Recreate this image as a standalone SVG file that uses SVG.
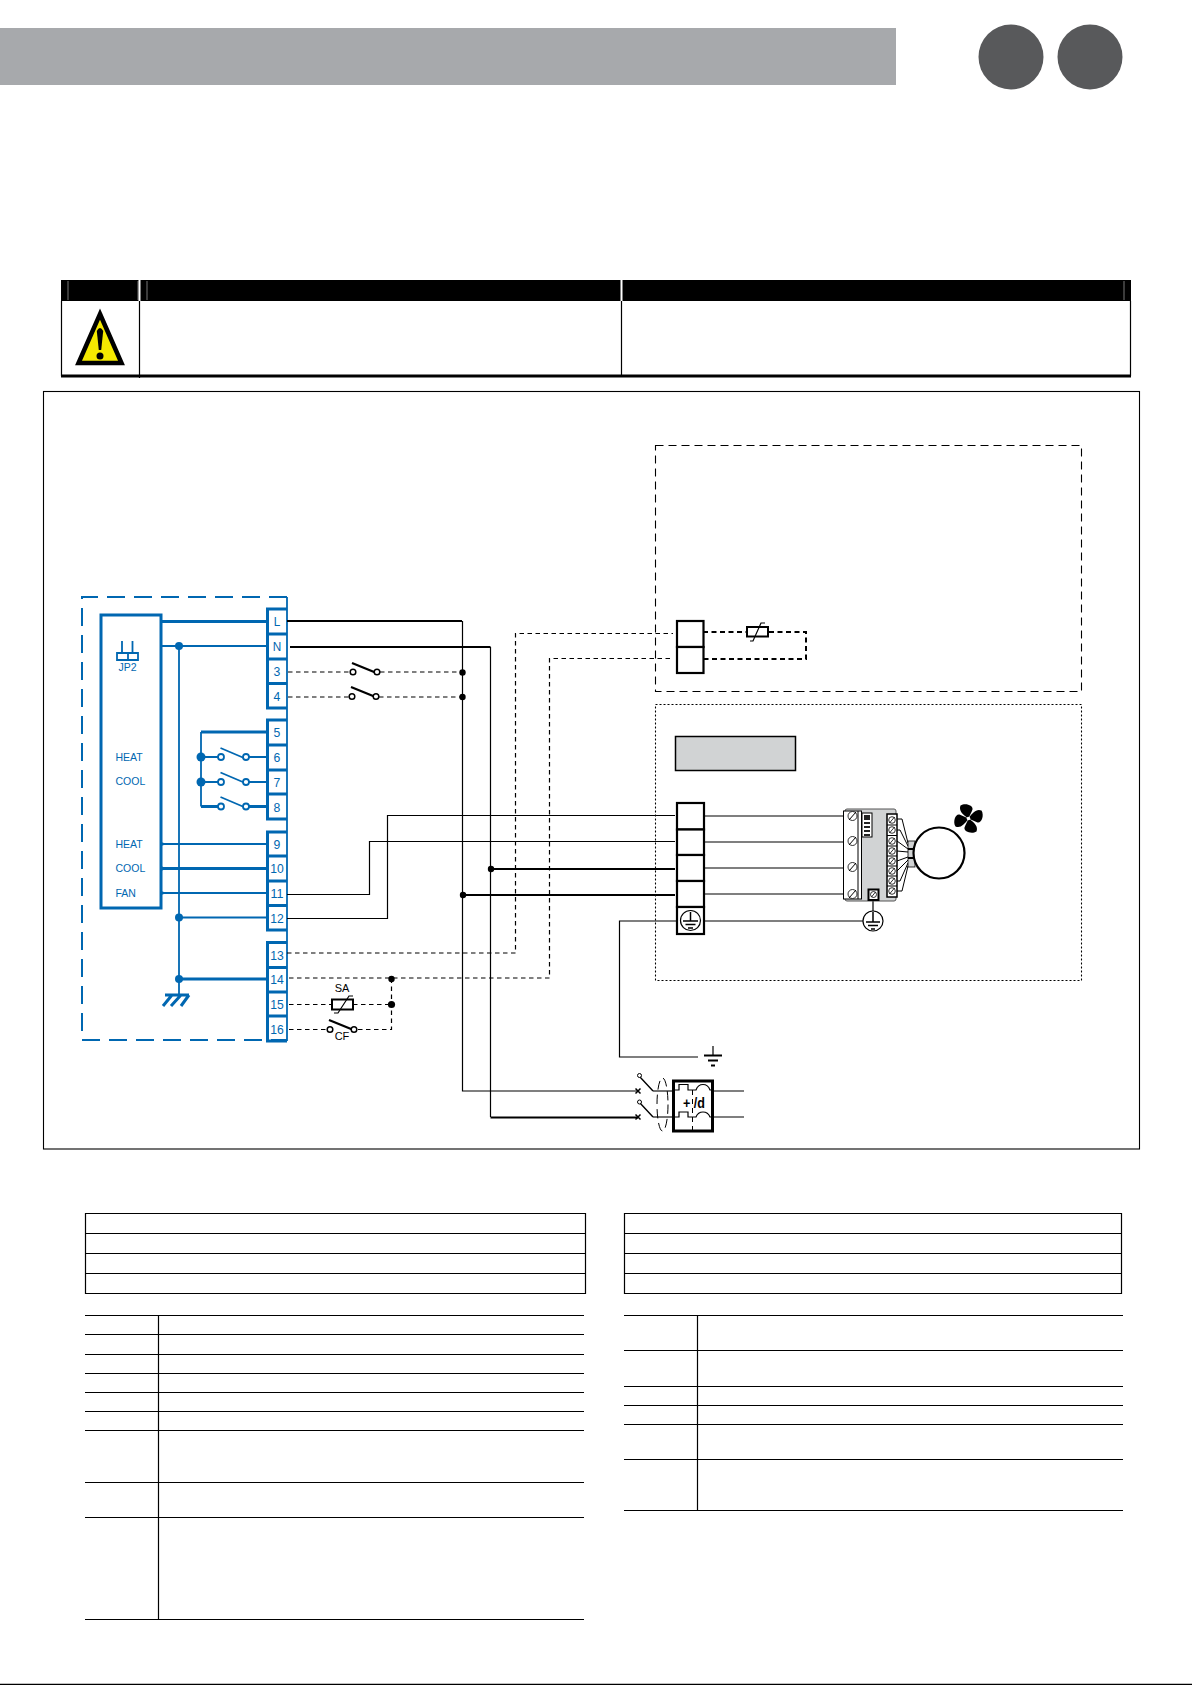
<svg xmlns="http://www.w3.org/2000/svg" width="1192" height="1685" viewBox="0 0 1192 1685">
<style>
text{font-family:"Liberation Sans",Arial,sans-serif}
.b{fill:none;stroke:#0067b1;stroke-width:1.8}
.bt{fill:none;stroke:#0067b1;stroke-width:3}
.bd{fill:#0067b1;stroke:none}
.bl{fill:#0067b1;font-size:13.500px;text-anchor:middle;dominant-baseline:central}
.cl{fill:#0067b1;font-size:10.500px}
.k{fill:none;stroke:#000;stroke-width:1.200}
.kt{fill:none;stroke:#000;stroke-width:2.200}
.d{fill:none;stroke:#000;stroke-width:1.200;stroke-dasharray:4.500 3.500}
.dt{fill:none;stroke:#000;stroke-width:2;stroke-dasharray:5 3.500}
.kd{fill:#000;stroke:none}
.c{fill:#fff;stroke:#000;stroke-width:1.500}
.cb{fill:#fff;stroke:#0067b1;stroke-width:1.800}
.ln{stroke:#000;stroke-width:1.200;fill:none}
.tm{fill:#fff;stroke:#000;stroke-width:2.200}
</style>
<defs>
<path id="blade" d="M0 0C-6 -4 -10 -8 -8 -13C-3 -16 5 -13 4 -9C3 -6 1 -3 0 0Z" fill="#000"/>
</defs>
<g id="header">
<rect x="0" y="28" width="896" height="57" fill="#a7a9ac"/>
<circle cx="1011" cy="57" r="32.500" fill="#58595b"/>
<circle cx="1090" cy="57" r="32.500" fill="#58595b"/>
</g>
<g id="warning-table">
<rect x="61" y="280" width="1070" height="21" fill="#000"/>
<path d="M68 281V300M138 281V300M147 281V300M1124 281V300" stroke="#777" stroke-width="1"/>
<path d="M139.500 280V301M621.500 280V301" stroke="#fff" stroke-width="2"/>
<path d="M61.500 301V376M139.500 301V378M621.500 301V376M1130.500 301V376" stroke="#000" stroke-width="1.200"/>
<path d="M61 376H1131" stroke="#000" stroke-width="3"/>
<path d="M100 314L121.500 363H78.500Z" fill="#f5e900" stroke="#000" stroke-width="4.500" stroke-linejoin="miter"/>
<path d="M96.800 331Q100 325 103.200 331L101.200 350H98.800Z" fill="#000"/>
<circle cx="100" cy="356" r="3.500" fill="#000"/>
</g>
<rect id="frame" x="43.500" y="391.500" width="1096" height="757.500" fill="none" stroke="#000" stroke-width="1.100"/>
<g id="indoor-box">
<rect x="655.500" y="445.500" width="426" height="246" fill="none" stroke="#000" stroke-width="1.100" stroke-dasharray="8 5"/>
</g>
<g id="fan-box">
<rect x="655.500" y="704.500" width="426" height="276" fill="none" stroke="#000" stroke-width="1.100" stroke-dasharray="2 2"/>
<rect x="675.500" y="736.500" width="120" height="34" fill="#d1d3d4" stroke="#000" stroke-width="1.500"/>
</g>
<g id="controller">
<path d="M287 597H82V1040H287" fill="none" stroke="#0067b1" stroke-width="2" stroke-dasharray="18 9"/>
<rect class="bt" x="101" y="615" width="60" height="293"/>
<path class="b" d="M122 641V653M132.500 641V653M117 653H138V660H117ZM128 653V660"/>
<text x="127.500" y="666.500" class="cl" text-anchor="middle" dominant-baseline="central">JP2</text>
<text x="115.500" y="761" class="cl">HEAT</text>
<text x="115.500" y="785" class="cl">COOL</text>
<text x="115.500" y="848" class="cl">HEAT</text>
<text x="115.500" y="872" class="cl">COOL</text>
<text x="115.500" y="897" class="cl">FAN</text>
</g>
<g id="terminals-blue">
<path class="b" stroke-width="1.500" d="M287 597V1041"/>
<path class="bt" stroke-width="2.200" d="M287 609H267.500V708H287M267.500 634H287M267.500 659H287M267.500 683.500H287"/>
<path class="bt" stroke-width="2.200" d="M287 720H267.500V819H287M267.500 745H287M267.500 770H287M267.500 794H287"/>
<path class="bt" stroke-width="2.200" d="M287 832H267.500V930H287M267.500 856H287M267.500 881H287M267.500 905.500H287"/>
<path class="bt" stroke-width="2.200" d="M287 942.500H267.500V1041H287M267.500 967.500H287M267.500 992H287M267.500 1016H287"/>
<text x="277" y="621.500" class="bl" textLength="6.500" lengthAdjust="spacingAndGlyphs">L</text><text x="277" y="646" class="bl" textLength="8.500" lengthAdjust="spacingAndGlyphs">N</text>
<text x="277" y="671" class="bl" textLength="6.800" lengthAdjust="spacingAndGlyphs">3</text><text x="277" y="696" class="bl" textLength="6.800" lengthAdjust="spacingAndGlyphs">4</text>
<text x="277" y="732.500" class="bl" textLength="6.800" lengthAdjust="spacingAndGlyphs">5</text><text x="277" y="757.500" class="bl" textLength="6.800" lengthAdjust="spacingAndGlyphs">6</text>
<text x="277" y="782" class="bl" textLength="6.800" lengthAdjust="spacingAndGlyphs">7</text><text x="277" y="807" class="bl" textLength="6.800" lengthAdjust="spacingAndGlyphs">8</text>
<text x="277" y="844" class="bl" textLength="6.800" lengthAdjust="spacingAndGlyphs">9</text><text x="277" y="868.500" class="bl" textLength="13.500" lengthAdjust="spacingAndGlyphs">10</text>
<text x="277" y="893" class="bl" textLength="13" lengthAdjust="spacingAndGlyphs">11</text><text x="277" y="918" class="bl" textLength="13.500" lengthAdjust="spacingAndGlyphs">12</text>
<text x="277" y="955" class="bl" textLength="13.500" lengthAdjust="spacingAndGlyphs">13</text><text x="277" y="979.500" class="bl" textLength="13.500" lengthAdjust="spacingAndGlyphs">14</text>
<text x="277" y="1004" class="bl" textLength="13.500" lengthAdjust="spacingAndGlyphs">15</text><text x="277" y="1029" class="bl" textLength="13.500" lengthAdjust="spacingAndGlyphs">16</text>
</g>
<g id="connectors">
<path class="bt" d="M161 621.500H267.500M161 868.500H267.500M179 979H267.500M201 732H267.500M201 806.500H222M246 806.500H267.500"/>
<path class="b" d="M161 646H267.500M179 646V994M161 844H267.500M161 893H267.500M179 917.500H267.500M201 732V806.500M201 757H222M246 757H267.500M201 782H222M246 782H267.500"/>
<g class="bd"><circle cx="179" cy="646" r="4"/><circle cx="179" cy="917.500" r="4"/><circle cx="179" cy="979" r="4"/><circle cx="201" cy="757" r="4.500"/><circle cx="201" cy="782" r="4.500"/>
<path d="M161 842L167 844L161 846ZM161 866L167 868.500L161 871ZM161 891L167 893L161 895Z"/></g>
<path class="bt" stroke-width="2" d="M165 995H189M172 995L163 1006M181 995L171 1006M189 995L181 1006"/>
<path class="b" stroke-width="2.200" d="M220.500 748L244 758M220.500 772.500L244 782.500M220.500 797L244 807"/>
<circle class="cb" cx="221" cy="757" r="3"/><circle class="cb" cx="246" cy="757" r="3"/>
<circle class="cb" cx="221" cy="782" r="3"/><circle class="cb" cx="246" cy="782" r="3"/>
<circle class="cb" cx="221" cy="806.500" r="3"/><circle class="cb" cx="246" cy="806.500" r="3"/>

<path class="kt" d="M287 621H462M290 647H490.500"/>
<path class="k" stroke-width="1.500" d="M462.500 621V1091H638M490.500 647V1117"/>
<path class="kt" d="M490.500 1117.500H638M490.500 869H675M463 895H675"/>
<path class="k" d="M287 894.500H369.500V841.500H675M287 918.500H387.500V815.500H675"/>
<path class="d" d="M288 672H350M380 672H462M288 697H349M379 697H462"/>
<path class="d" d="M287 953H515.500V633.500H673M289 978H549.500V658.500H671"/>
<path class="d" d="M289 1004.500H332M353 1004.500H391.500M289 1029.500H326M358 1029.500H391.500V979"/>
<g class="kd"><circle cx="462.500" cy="672.500" r="3.200"/><circle cx="462.500" cy="697" r="3.200"/><circle cx="491" cy="869" r="3.200"/><circle cx="463" cy="895" r="3.200"/><circle cx="391.500" cy="979" r="3.200"/><circle cx="391.500" cy="1004.500" r="3.600"/></g>
<path class="kt" d="M352 663L379 674M351 687L378 698M329 1020L356 1031"/>
<circle class="c" cx="353" cy="672" r="2.800"/><circle class="c" cx="377" cy="672" r="2.800"/>
<circle class="c" cx="352" cy="696.500" r="2.800"/><circle class="c" cx="376" cy="696.500" r="2.800"/>
<circle class="c" cx="330" cy="1029.500" r="2.800"/><circle class="c" cx="354" cy="1029.500" r="2.800"/>
<rect x="332" y="999.500" width="21" height="10" fill="#fff" stroke="#000" stroke-width="2"/>
<path class="k" stroke-width="1.800" d="M334 1013H338L349 996H353"/>
<text x="342" y="988" font-size="11" text-anchor="middle" dominant-baseline="central">SA</text>
<text x="342" y="1036" font-size="11" text-anchor="middle" dominant-baseline="central">CF</text>

<path class="dt" d="M703 632H747M769 632H806V659H703"/>
<rect x="747" y="627" width="21" height="9.500" fill="#fff" stroke="#000" stroke-width="2"/>
<path class="k" stroke-width="1.800" d="M750 641H753L761 623H765"/>

<path class="k" d="M704 816H852M704 842H852M704 868H852M704 894H852M704 921H863M873 896V911"/>
<path class="k" stroke-width="1.500" d="M677 921H619.500V1057H698"/>
<path class="k" stroke-width="1.500" d="M713 1046V1055"/>
<path d="M704 1055.500H722M708 1060.500H718M711 1065.500H715" stroke="#000" stroke-width="1.800"/>
<path class="k" d="M714 1091H744M714 1117H744"/>
</g>
<g id="term-indoor"><rect class="tm" x="677" y="621" width="26.500" height="26"/><rect class="tm" x="677" y="647" width="26.500" height="26"/></g>
<g id="term-fan">
<rect class="tm" x="677" y="803" width="27" height="26.500"/><rect class="tm" x="677" y="829.500" width="27" height="25.500"/><rect class="tm" x="677" y="855" width="27" height="26"/><rect class="tm" x="677" y="881" width="27" height="26"/><rect class="tm" x="677" y="907" width="27" height="27"/>
<circle cx="690.500" cy="920.500" r="10" fill="#fff" stroke="#000" stroke-width="1.200"/>
<path d="M690.500 912V921M683 921H698M685.500 924.500H695.500M688 928H693" stroke="#000" stroke-width="1.500"/>
</g>
<g id="driver">
<rect x="845" y="809" width="51" height="92" rx="2" fill="#d1d3d4" stroke="#555" stroke-width="1"/>
<rect x="843.500" y="811" width="18" height="88" fill="#fff" stroke="#000" stroke-width="1"/>
<path d="M858 811V899" stroke="#000" stroke-width="1"/>
<rect x="862" y="813" width="10" height="24" fill="#fff" stroke="#000" stroke-width="1"/>
<path d="M864 815h6v5h-6zM864 822h6v2h-6zM864 826h6v2h-6zM864 830h6v2h-6zM864 834h6v2h-6z" fill="#222"/>
<g fill="#fff" stroke="#000" stroke-width=".8">
<circle cx="852.500" cy="816" r="4.500"/><circle cx="852.500" cy="841" r="4.500"/><circle cx="852.500" cy="867" r="4.500"/><circle cx="852.500" cy="894" r="4.500"/>
</g>
<path d="M849 820L856 812M849 845L856 837M849 871L856 863M849 898L856 890" stroke="#000" stroke-width="1"/>
<rect x="887" y="814" width="10" height="83" fill="#fff" stroke="#000" stroke-width="1.500"/>
<path d="M887 825H897M887 835.500H897M887 846H897M887 856H897M887 866H897M887 876H897M887 886H897" stroke="#000" stroke-width="1"/>
<g fill="#fff" stroke="#000" stroke-width=".8">
<circle cx="892" cy="820" r="3.300"/><circle cx="892" cy="830" r="3.300"/><circle cx="892" cy="841" r="3.300"/><circle cx="892" cy="851" r="3.300"/><circle cx="892" cy="861" r="3.300"/><circle cx="892" cy="871" r="3.300"/><circle cx="892" cy="881" r="3.300"/><circle cx="892" cy="891" r="3.300"/>
</g>
<path d="M889.500 823L894.500 817M889.500 833L894.500 827M889.500 844L894.500 838M889.500 854L894.500 848M889.500 864L894.500 858M889.500 874L894.500 868M889.500 884L894.500 878M889.500 894L894.500 888" stroke="#000" stroke-width=".8"/>
<rect x="868.500" y="889.500" width="10" height="10.500" fill="#fff" stroke="#000" stroke-width="2"/>
<circle cx="873.500" cy="894.500" r="3" fill="#fff" stroke="#000" stroke-width=".8"/>
<path d="M871.500 897L875.500 892" stroke="#000" stroke-width=".8"/>
<path d="M897 819H902L908 843M897 830H900L908 846M897 841L908 849M897 851L908 852M897 861L908 857M897 871L908 860M897 881H900L908 863M897 891H902L908 866" fill="none" stroke="#000" stroke-width="1"/>
</g>
<g id="motor">
<rect x="908" y="841" width="7" height="26" fill="#d1d3d4" stroke="#000" stroke-width=".8"/>
<path d="M908 849H915M908 858H915" stroke="#000" stroke-width="2"/>
<circle cx="939" cy="853" r="25.500" fill="#fff" stroke="#000" stroke-width="2.200"/>
<use href="#blade" transform="translate(968.500 818.500)"/>
<use href="#blade" transform="translate(968.500 818.500) rotate(90)"/>
<use href="#blade" transform="translate(968.500 818.500) rotate(180)"/>
<use href="#blade" transform="translate(968.500 818.500) rotate(270)"/>
<circle cx="968.500" cy="818.500" r="1.800" fill="#fff"/>
</g>
<g id="earth">
<circle cx="873" cy="921" r="10" fill="#fff" stroke="#000" stroke-width="1.200"/>
<path d="M873 912V922M866 922H880M868 925.500H878M871 929H875" stroke="#000" stroke-width="1.500"/>
</g>
<g id="filter">
<path d="M653 1091H672M653 1117H672" stroke="#444" stroke-width="1.500"/>
<path d="M640 1077L653 1091M640 1103L653 1117" stroke="#000" stroke-width="1.400"/>
<circle cx="639.500" cy="1075.500" r="2" fill="#fff" stroke="#000"/><circle cx="639.500" cy="1102" r="2" fill="#fff" stroke="#000"/>
<path d="M635.500 1088.500L640.500 1093.500M635.500 1093.500L640.500 1088.500M635.500 1114.500L640.500 1119.500M635.500 1119.500L640.500 1114.500" stroke="#000" stroke-width="1.500"/>
<ellipse cx="662.500" cy="1104.500" rx="5.500" ry="26.500" fill="none" stroke="#000" stroke-width="1" stroke-dasharray="9 5"/>
<rect x="673.500" y="1081" width="39" height="50" fill="#fff" stroke="#000" stroke-width="3"/>
<path d="M675 1090H679V1084.500H688V1090H696Q698 1084.500 703 1084.500Q708 1084.500 710 1090H712M675 1117H679V1112H688V1117H696Q698 1112 703 1112Q708 1112 710 1117H712" fill="none" stroke="#000" stroke-width="1.200"/>
<path d="M692.500 1090V1130" stroke="#000" stroke-width="1" stroke-dasharray="5 4"/>
<text x="694" y="1108" font-size="15" font-weight="700" text-anchor="middle" fill="#000" textLength="22" lengthAdjust="spacingAndGlyphs">+ /d</text>
</g>
<g id="table-a">
<path class="ln" d="M85.500 1213.500H585.500V1293.500H85.500ZM85.500 1233.500H585.500M85.500 1253.500H585.500M85.500 1273.500H585.500"/>
</g>
<g id="table-b">
<path class="ln" d="M624.500 1213.500H1121.500V1293.500H624.500ZM624.500 1233.500H1121.500M624.500 1253.500H1121.500M624.500 1273.500H1121.500"/>
</g>
<g id="table-c">
<path class="ln" d="M85 1315.500H584M85 1334.500H584M85 1354.500H584M85 1373.500H584M85 1392.500H584M85 1411.500H584M85 1430.500H584M85 1482.500H584M85 1517.500H584M85 1619.500H584M158.500 1315.500V1619.500"/>
</g>
<g id="table-d">
<path class="ln" d="M624 1315.500H1123M624 1350.500H1123M624 1386.500H1123M624 1405.500H1123M624 1424.500H1123M624 1459.500H1123M624 1510.500H1123M697.500 1315.500V1510.500"/>
</g>
<path id="footer" class="ln" d="M0 1684.300H1192"/>
</svg>
